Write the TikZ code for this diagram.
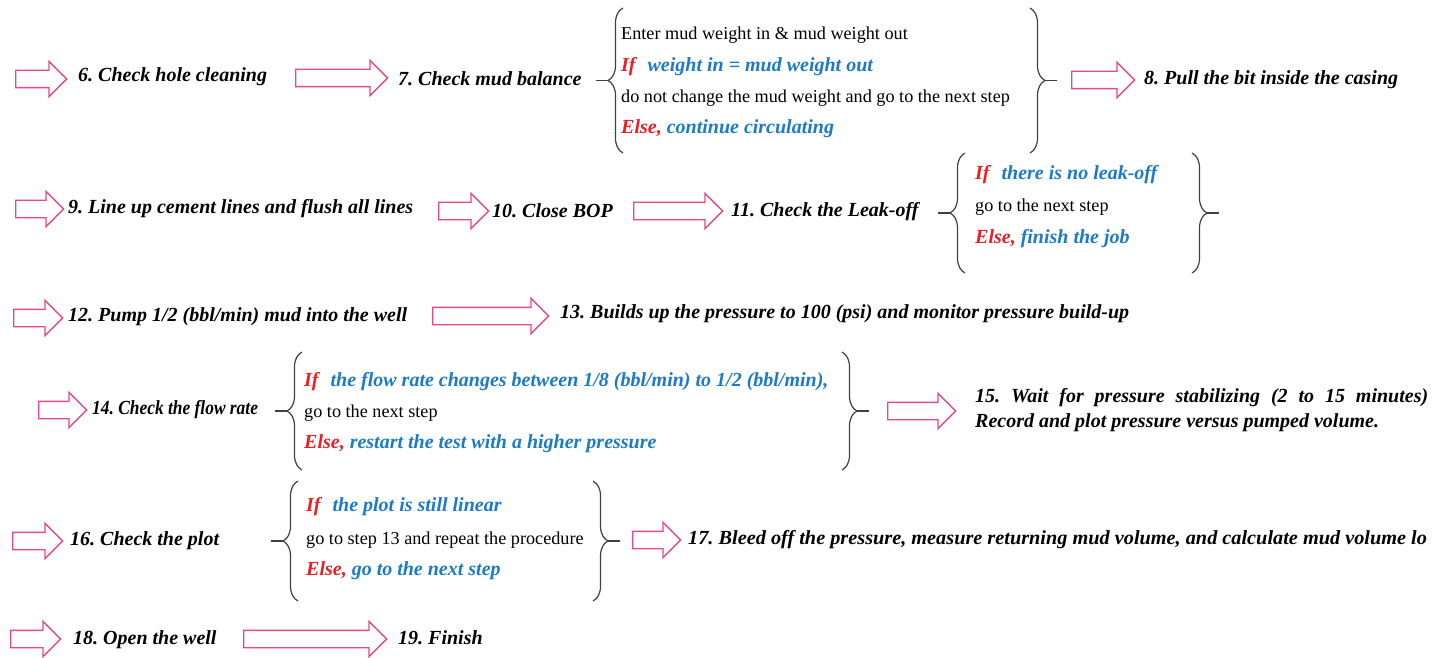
\documentclass[tikz,border=0pt]{standalone}
\usepackage{fontspec}
\usepackage{graphicx}
\setmainfont{Liberation Serif}
\usetikzlibrary{shapes.arrows,decorations.pathreplacing}

\definecolor{arrowpink}{RGB}{228,72,142}
\definecolor{bracegray}{RGB}{64,64,64}
\definecolor{ifred}{RGB}{240,28,36}
\definecolor{actblue}{RGB}{28,122,200}

\newcommand\stepfnt{\fontsize{20}{24}\selectfont\bfseries\itshape\frenchspacing}
\newcommand\plainfnt{\fontsize{18.2}{22}\selectfont\frenchspacing}
\newcommand\condfnt{\fontsize{20}{24}\selectfont\bfseries\itshape\frenchspacing}
\newcommand\IfWord{\textcolor{ifred}{If}\hspace{0.6em}}
\newcommand\ElseWord{\textcolor{ifred}{Else,}\hspace{0.25em}}

% left brace: name, x of the ends, top y, bottom y
\newcommand\leftcurly[4]{%
  \draw[curly] (#2,#4) -- (#2,#3);
  \coordinate (#1tip) at (#2-15,{(#3+#4)/2});
  \coordinate (#1end) at (#2-27,{(#3+#4)/2});
  \draw[curlytick] (#1tip) -- (#1end);
}
% right brace: name, x of the ends, top y, bottom y
\newcommand\rightcurly[4]{%
  \draw[curly] (#2,#3) -- (#2,#4);
  \coordinate (#1tip) at (#2+15,{(#3+#4)/2});
  \coordinate (#1end) at (#2+27,{(#3+#4)/2});
  \draw[curlytick] (#1tip) -- (#1end);
}

\tikzset{
  stepbox/.style={anchor=west, inner sep=0pt, font=\stepfnt, text=black},
  plainline/.style={anchor=west, inner sep=0pt, font=\plainfnt, text=black},
  condline/.style={anchor=west, inner sep=0pt, font=\condfnt, text=actblue},
  blockarrow/.style={single arrow, draw=arrowpink, line width=1.4pt,
    inner xsep=0pt, inner ysep=8pt, single arrow head extend=9pt,
    anchor=tail, minimum height=#1},
  curly/.style={decorate, decoration={brace, amplitude=15pt},
    draw=bracegray, line width=1.2pt},
  curlytick/.style={draw=bracegray, line width=1.2pt},
}

\begin{document}
\begin{tikzpicture}[x=1pt,y=-1pt]
\useasboundingbox (0,0) rectangle (1444,658);

% ---- steps 6 to 8 ----
\node[blockarrow=51pt] (a6) at (15,79) {};
\node[stepbox] (s6) at (78,77) {6. Check hole cleaning};
\node[blockarrow=92pt] (a7) at (295,78) {};
\node[stepbox] (s7) at (398,79) {7. Check mud balance};
\leftcurly{b7l}{623}{8}{153}
\node[plainline] (c7a) at (621,35) {Enter mud weight in \& mud weight out};
\node[condline] (c7b) at (621,67) {\IfWord weight in = mud weight out};
\node[plainline] (c7c) at (621,98) {do not change the mud weight and go to the next step};
\node[condline] (c7d) at (621,129) {\ElseWord continue circulating};
\rightcurly{b7r}{1030}{8}{153}
\node[blockarrow=63pt] (a8) at (1071,80) {};
\node[stepbox] (s8) at (1144,80) {8. Pull the bit inside the casing};

% ---- steps 9 to 11 ----
\node[blockarrow=48pt] (a9) at (15,209) {};
\node[stepbox] (s9) at (68,209) {9. Line up cement lines and flush all lines};
\node[blockarrow=50pt] (a10) at (438,211) {};
\node[stepbox] (s10) at (492,211) {10. Close BOP};
\node[blockarrow=89pt] (a11) at (633,211) {};
\node[stepbox] (s11) at (731,212) {11. Check the Leak-off};
\leftcurly{b11l}{965}{153}{273}
\node[condline] (c11a) at (975,175) {\IfWord there is no leak-off};
\node[plainline] (c11b) at (975,207) {go to the next step};
\node[condline] (c11c) at (975,239) {\ElseWord finish the job};
\rightcurly{b11r}{1192}{153}{273}

% ---- steps 12 and 13 ----
\node[blockarrow=49pt] (a12) at (13,318) {};
\node[stepbox] (s12) at (68,317) {12. Pump 1/2 (bbl/min) mud into the well};
\node[blockarrow=116pt] (a13) at (432,316) {};
\node[stepbox] (s13) at (560,314) {13. Builds up the pressure to 100 (psi) and monitor pressure build-up};

% ---- steps 14 and 15 ----
\node[blockarrow=48pt] (a14) at (38,410) {};
\node[stepbox] (s14) at (92,410) {\scalebox{0.87}[1]{14. Check the flow rate}};
\leftcurly{b14l}{302}{352}{470}
\node[condline] (c14a) at (304,382) {\IfWord the flow rate changes between 1/8 (bbl/min) to 1/2 (bbl/min),};
\node[plainline] (c14b) at (304,413) {go to the next step};
\node[condline] (c14c) at (304,444) {\ElseWord restart the test with a higher pressure};
\rightcurly{b14r}{842}{352}{470}
\node[blockarrow=68pt] (a15) at (887,411) {};
\node[stepbox] (s15a) at (975,398) {\makebox[453pt][s]{15. Wait for pressure stabilizing (2 to 15 minutes)}};
\node[stepbox] (s15b) at (975,423) {Record and plot pressure versus pumped volume.};

% ---- steps 16 and 17 ----
\node[blockarrow=50pt] (a16) at (12,541) {};
\node[stepbox] (s16) at (70,541) {16. Check the plot};
\leftcurly{b16l}{298}{481}{601}
\node[condline] (c16a) at (306,507) {\IfWord the plot is still linear};
\node[plainline] (c16b) at (306,540) {go to step 13 and repeat the procedure};
\node[condline] (c16c) at (306,571) {\ElseWord go to the next step};
\rightcurly{b16r}{593}{481}{601}
\node[blockarrow=48pt] (a17) at (632,540) {};
\node[stepbox] (s17) at (688,540) {\scalebox{1.014}[1]{17. Bleed off the pressure, measure returning mud volume, and calculate mud volume lo}};

% ---- steps 18 and 19 ----
\node[blockarrow=50pt] (a18) at (10,639) {};
\node[stepbox] (s18) at (73,640) {18. Open the well};
\node[blockarrow=143pt] (a19) at (243,639) {};
\node[stepbox] (s19) at (398,638) {19. Finish};
\end{tikzpicture}
\end{document}
